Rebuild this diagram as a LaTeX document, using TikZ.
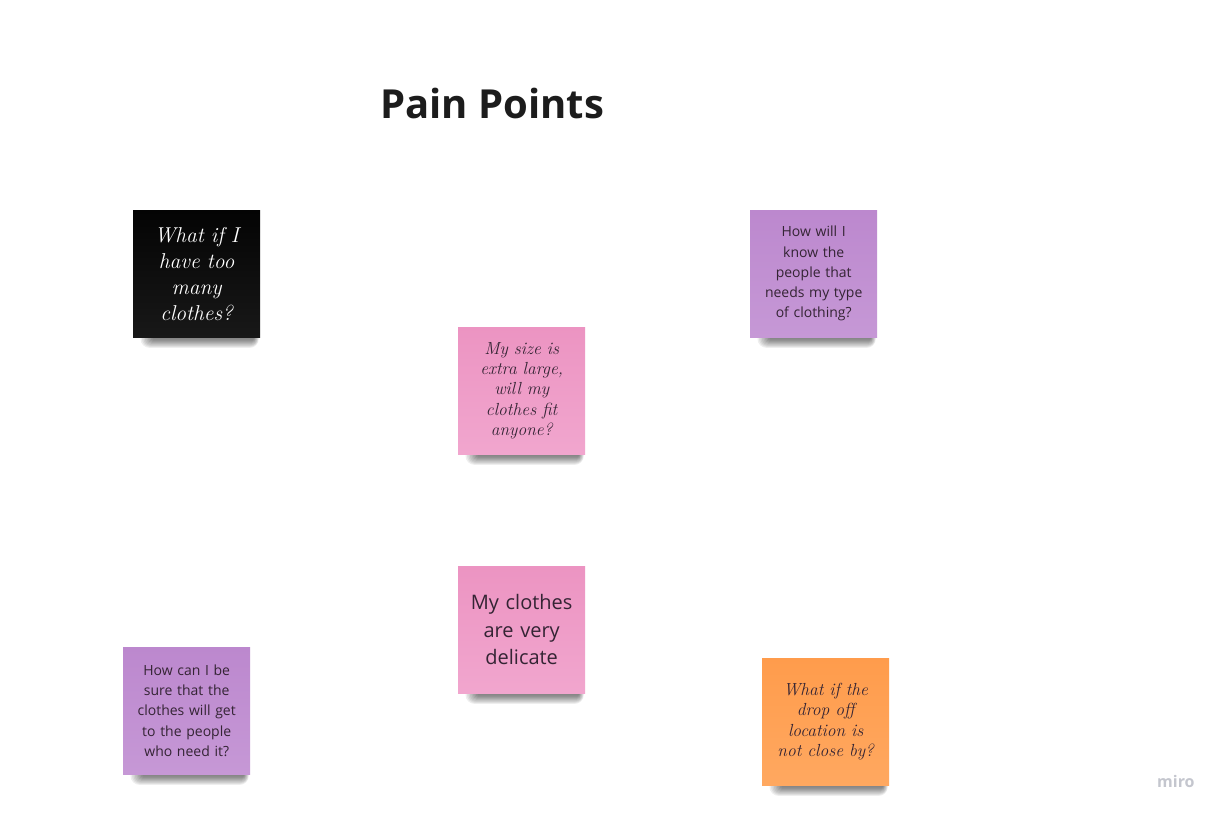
\documentclass[tikz,border=0pt]{standalone}
\usepackage{fontspec}
\newfontfamily\opensans{Open Sans}
\usetikzlibrary{backgrounds}

\definecolor{notepinktop}{RGB}{236,148,194}
\definecolor{notepinkbot}{RGB}{241,166,206}
\definecolor{notepurpletop}{RGB}{188,136,206}
\definecolor{notepurplebot}{RGB}{198,152,214}
\definecolor{noteorangetop}{RGB}{255,156,76}
\definecolor{noteorangebot}{RGB}{255,168,96}
\definecolor{noteblacktop}{RGB}{4,4,4}
\definecolor{noteblackbot}{RGB}{24,24,24}
\definecolor{notetext}{RGB}{52,36,52}
\definecolor{titletext}{RGB}{28,28,28}
\definecolor{logogray}{RGB}{196,198,206}

\tikzset{
  note/.style={anchor=north west, minimum width=127pt, minimum height=127pt,
    inner sep=0pt, align=center, text width=118pt, text=notetext},
  pinknote/.style={note, top color=notepinktop, bottom color=notepinkbot},
  purplenote/.style={note, top color=notepurpletop, bottom color=notepurplebot},
  orangenote/.style={note, top color=noteorangetop, bottom color=noteorangebot},
  blacknote/.style={note, top color=noteblacktop, bottom color=noteblackbot, text=white},
  shadowlayer/.style={black, opacity=0.065}
}

% soft curled-paper shadow under the lower edge of a sticky note
\newcommand\stickyshadow[1]{%
  \foreach \k in {1,...,9}{%
    \fill[shadowlayer, rounded corners=\k pt]
      ([xshift={(21-1.5*\k)*1pt}, yshift=30pt]#1.south west) rectangle
      ([xshift={(-7+0.6*\k)*1pt}, yshift={-(1+1.05*\k)*1pt}]#1.south east);
  }%
}

\begin{document}
\begin{tikzpicture}[x=1pt,y=-1pt]
\useasboundingbox (0,0) rectangle (1224,816);

% heading
\node[anchor=base west, inner sep=0pt, text=titletext,
      font=\opensans\bfseries\fontsize{40}{41}\selectfont] (title) at (380,118) {Pain Points};

% sticky notes
\node[blacknote, font=\itshape\fontsize{21.5}{26}\selectfont] (toomany) at (133,210)
  {What if I\\have too\\many\\clothes?};
\node[purplenote, font=\opensans\fontsize{14}{20.3}\selectfont] (knowpeople) at (750,210)
  {How will I\\know the\\people that\\needs my type\\of clothing?};
\node[pinknote, font=\itshape\fontsize{17.5}{20.3}\selectfont] (xlarge) at (458,327)
  {My size is\\extra large,\\will my\\clothes fit\\anyone?};
\node[pinknote, font=\opensans\fontsize{20}{27.5}\selectfont] (delicate) at (458,566)
  {My clothes\\are very\\delicate};
\node[purplenote, font=\opensans\fontsize{14}{20.3}\selectfont] (getthere) at (123,647)
  {How can I be\\sure that the\\clothes will get\\to the people\\who need it?};
\node[orangenote, font=\itshape\fontsize{17.5}{20.3}\selectfont] (dropoff) at (762,658)
  {What if the\\drop off\\location is\\not close by?};

% watermark
\node[anchor=base west, inner sep=0pt, text=logogray,
      font=\opensans\bfseries\fontsize{16}{16}\selectfont] (logo) at (1157,787) {miro};

\begin{scope}[on background layer]
  \fill[white] (0,0) rectangle (1224,816);
  \stickyshadow{toomany}
  \stickyshadow{knowpeople}
  \stickyshadow{xlarge}
  \stickyshadow{delicate}
  \stickyshadow{getthere}
  \stickyshadow{dropoff}
\end{scope}
\end{tikzpicture}
\end{document}
